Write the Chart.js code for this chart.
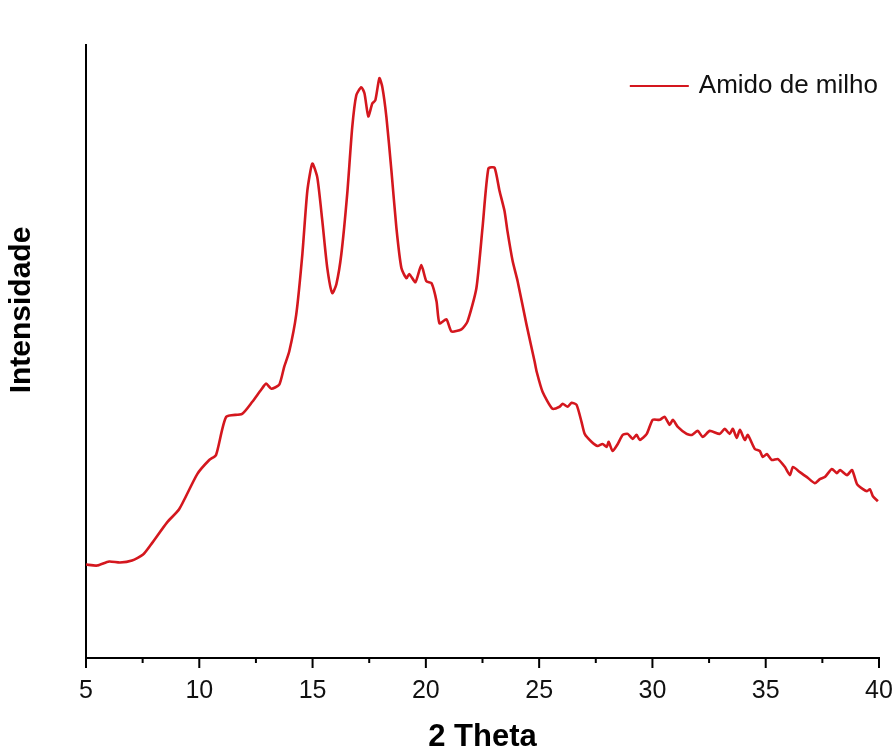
<!DOCTYPE html>
<html>
<head>
<meta charset="utf-8">
<script src="https://cdn.jsdelivr.net/npm/chart.js@4"></script>
<style>
  html, body { margin: 0; padding: 0; background: #fff; }
</style>
</head>
<body>
<canvas id="xrd" width="896" height="753"></canvas>
<script>
// 2 theta positions (deg)
var twoTheta = [5.00,5.49,6.02,6.50,7.03,7.52,7.87,8.58,9.11,9.91,
  10.44,10.74,11.19,11.89,12.34,12.73,12.95,13.18,13.53,13.75,
  13.97,14.28,14.55,14.77,14.99,15.21,15.43,15.65,15.87,16.05,
  16.27,16.53,16.75,16.93,17.15,17.29,17.46,17.64,17.77,17.95,
  18.08,18.26,18.48,18.70,18.92,19.14,19.27,19.54,19.80,20.02,
  20.25,20.47,20.60,20.91,21.13,21.57,21.84,22.23,22.50,22.76,
  23.03,23.25,23.47,23.60,23.83,24.05,24.44,24.80,24.89,25.15,
  25.59,25.90,26.04,26.26,26.43,26.65,26.87,27.01,27.32,27.58,
  27.80,27.98,28.07,28.24,28.47,28.69,28.91,29.13,29.30,29.44,
  29.75,30.01,30.32,30.54,30.76,30.90,31.12,31.51,31.74,32.00,
  32.22,32.53,32.97,33.19,33.41,33.55,33.72,33.86,34.08,34.21,
  34.52,34.74,34.87,35.05,35.27,35.54,35.85,36.07,36.20,36.51,
  36.82,37.17,37.39,37.61,37.92,38.14,38.28,38.59,38.81,39.03,
  39.29,39.47,39.60,39.73,39.95];

// intensidade (a.u.)
var amidoMilho = [93,92,96,95,97,103,113,135,148,183,
  197,202,240,243,255,267,273,268,272,290,
  305,342,402,465,492,478,435,388,363,372,
  402,462,528,560,568,562,539,552,555,577,
  568,538,485,428,388,378,382,374,391,375,
  373,355,333,337,325,327,335,368,428,487,
  488,465,445,425,395,375,332,295,285,265,
  248,250,253,250,254,252,235,223,215,211,
  213,210,215,206,213,222,223,218,222,217,
  223,237,237,240,232,237,230,223,222,226,
  220,226,223,228,223,228,219,227,217,222,
  208,206,200,203,197,198,190,182,190,185,
  180,174,178,180,188,184,187,182,187,173,
  168,166,168,161,156];

var xTicks = [5, 10, 15, 20, 25, 30, 35, 40];

var font = "'Liberation Sans', Arial, sans-serif";

// tick marks under the x axis, rotated y title and the legend in the top right corner
var axisDeco = {
  id: 'axisDeco',
  afterDraw: function(chart) {
    var ctx = chart.ctx, xs = chart.scales.x, area = chart.chartArea;
    ctx.save();
    ctx.strokeStyle = '#000';
    ctx.lineWidth = 2;
    xs.ticks.forEach(function(t) {
      var px = xs.getPixelForValue(t.value);
      var len = xTicks.indexOf(t.value) >= 0 ? 10 : 5;
      ctx.beginPath();
      ctx.moveTo(px, area.bottom);
      ctx.lineTo(px, area.bottom + len);
      ctx.stroke();
    });

    // legend
    var ds = chart.data.datasets[0];
    ctx.font = '26px ' + font;
    ctx.textBaseline = 'middle';
    ctx.textAlign = 'right';
    ctx.fillStyle = '#111';
    var ly = area.top + 41;
    var tx = area.right - 1;
    var tw = ctx.measureText(ds.label).width;
    ctx.fillText(ds.label, tx, ly);
    ctx.strokeStyle = ds.borderColor;
    ctx.lineWidth = 2;
    ctx.beginPath();
    ctx.moveTo(tx - tw - 10, ly);
    ctx.lineTo(tx - tw - 69, ly);
    ctx.stroke();

    ctx.translate(22, 310);
    ctx.rotate(-Math.PI / 2);
    ctx.fillStyle = '#000';
    ctx.font = 'bold 30px ' + font;
    ctx.textAlign = 'center';
    ctx.fillText('Intensidade', 0, 0);
    ctx.restore();
  }
};

new Chart(document.getElementById('xrd'), {
  type: 'line',
  data: {
    datasets: [{
      label: 'Amido de milho',
      data: twoTheta.map(function(t, i) { return {x: t, y: amidoMilho[i]}; }),
      fill: false,
      borderColor: '#d4171e',
      backgroundColor: '#d4171e',
      borderWidth: 2.6,
      pointRadius: 0,
      tension: 0.2
    }]
  },
  options: {
    responsive: false,
    animation: false,
    devicePixelRatio: 1,
    layout: { padding: { top: 45, right: 17, left: 0, bottom: 0 } },
    plugins: {
      tooltip: { enabled: false },
      legend: { display: false }
    },
    scales: {
      x: {
        type: 'linear',
        min: 5,
        max: 40,
        afterFit: function(s) { s.height = 95; s.paddingRight = 0; s.paddingLeft = 0; },
        border: { display: true, color: '#000', width: 2 },
        grid: { display: true, drawOnChartArea: false, drawTicks: true, tickLength: 10, tickColor: 'rgba(0,0,0,0)' },
        ticks: {
          stepSize: 2.5,
          autoSkip: false,
          maxRotation: 0,
          padding: 8,
          color: '#111',
          font: { family: font, size: 25 },
          callback: function(v) { return xTicks.indexOf(v) >= 0 ? v : ''; }
        },
        title: {
          display: true,
          text: '2 Theta',
          color: '#000',
          padding: { top: 0, bottom: 0 },
          font: { family: font, size: 31, weight: 'bold', lineHeight: 1 }
        }
      },
      y: {
        min: 0,
        max: 610,
        afterFit: function(s) { s.width = 86; },
        border: { display: true, color: '#000', width: 2 },
        grid: { display: false },
        ticks: { display: false }
      }
    }
  },
  plugins: [axisDeco]
});
</script>
</body>
</html>
